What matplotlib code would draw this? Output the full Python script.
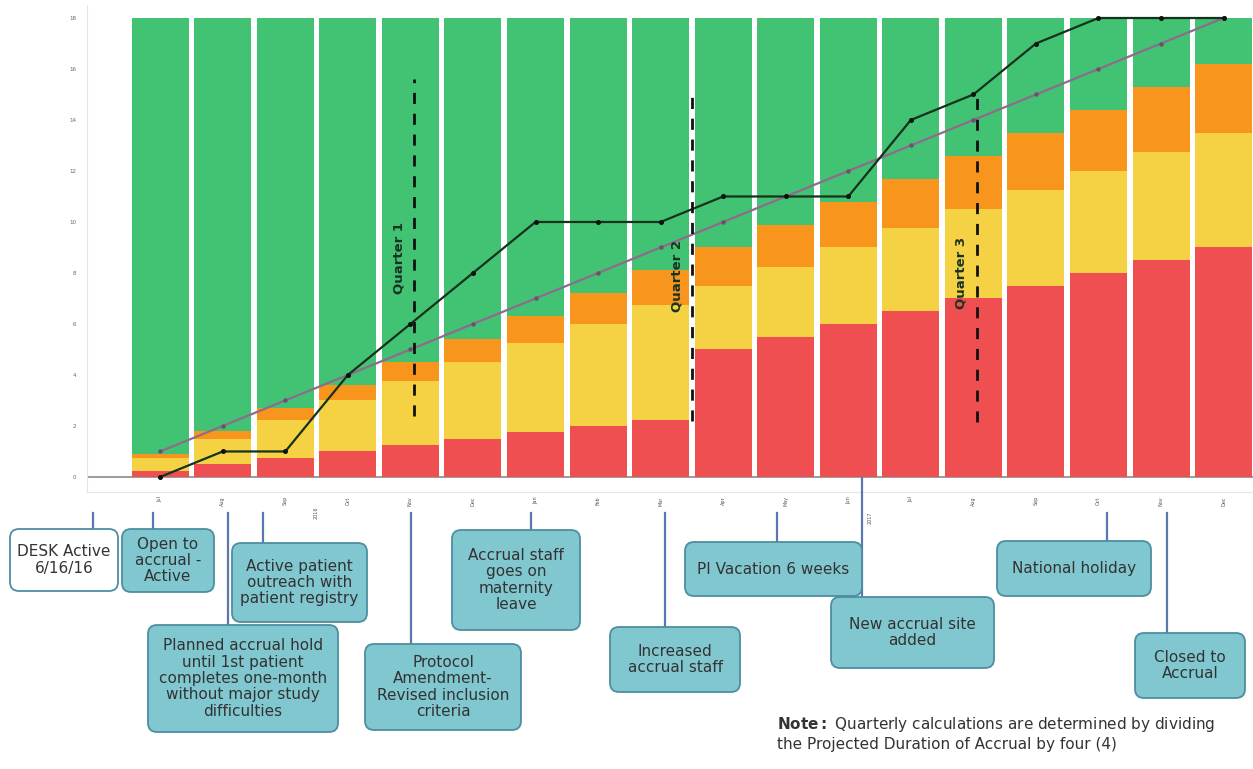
import matplotlib
matplotlib.use("Agg")
import matplotlib.pyplot as plt
from matplotlib.patches import FancyBboxPatch
import numpy as np

# ---------------- data ----------------
months = ["Jul", "Aug", "Sep", "Oct", "Nov", "Dec", "Jan", "Feb", "Mar",
          "Apr", "May", "Jun", "Jul", "Aug", "Sep", "Oct", "Nov", "Dec"]
years = ["2016", "2017"]
# cumulative thresholds (top of each coloured band)
red_top = [0.25, 0.5, 0.75, 1.0, 1.25, 1.5, 1.75, 2.0, 2.25,
           5.0, 5.5, 6.0, 6.5, 7.0, 7.5, 8.0, 8.5, 9.0]
yellow_top = [0.75, 1.5, 2.25, 3.0, 3.75, 4.5, 5.25, 6.0, 6.75,
              7.5, 8.25, 9.0, 9.75, 10.5, 11.25, 12.0, 12.75, 13.5]
orange_top = [0.9, 1.8, 2.7, 3.6, 4.5, 5.4, 6.3, 7.2, 8.1,
              9.0, 9.9, 10.8, 11.7, 12.6, 13.5, 14.4, 15.3, 16.2]
green_top = [18] * 18
projected = [1, 2, 3, 4, 5, 6, 7, 8, 9, 10, 11, 12, 13, 14, 15, 16, 17, 18]
actual = [0, 1, 1, 4, 6, 8, 10, 10, 10, 11, 11, 11, 14, 15, 17, 18, 18, 18]
quarter_labels = ["Quarter 1", "Quarter 2", "Quarter 3"]
quarter_pos = [4.05, 8.5, 13.05]
events = ["DESK Active\n6/16/16", "Open to\naccrual -\nActive",
          "Active patient\noutreach with\npatient registry",
          "Planned accrual hold\nuntil 1st patient\ncompletes one-month\nwithout major study\ndifficulties",
          "Protocol\nAmendment-\nRevised inclusion\ncriteria",
          "Accrual staff\ngoes on\nmaternity\nleave",
          "Increased\naccrual staff", "PI Vacation 6 weeks",
          "New accrual site\nadded", "National holiday", "Closed to\nAccrual"]

# ---------------- style ----------------
C_RED, C_YEL, C_ORA, C_GRN = "#ef4f51", "#f4d243", "#f7951c", "#42c273"
BOX_FILL, BOX_EDGE, CONN = "#80c7d0", "#4d8ea0", "#5a78ad"
FONT = ["DejaVu Sans"]

W, H = 1253, 769
fig = plt.figure(figsize=(W / 100, H / 100), dpi=100)
ax = fig.add_axes([87 / W, 1 - 492 / H, (W - 87) / W, (492 - 5) / H])

x = np.arange(len(months))
r = np.array(red_top); y_ = np.array(yellow_top); o = np.array(orange_top); g = np.array(green_top)
bw = 0.91
ax.axhline(0, color="#8a8a8a", lw=1.2, zorder=1)
ax.bar(x, r, bw, color=C_RED, zorder=2)
ax.bar(x, y_ - r, bw, bottom=r, color=C_YEL, zorder=2)
ax.bar(x, o - y_, bw, bottom=y_, color=C_ORA, zorder=2)
ax.bar(x, g - o, bw, bottom=o, color=C_GRN, zorder=2)

ax.plot(x, projected, color="#8d6c8c", lw=1.6, marker="o", ms=2.2,
        mfc="#6e4f6e", mec="#6e4f6e", zorder=4)
ax.plot(x, actual, color="#15321c", lw=1.6, marker="o", ms=2.6,
        mfc="#111111", mec="#111111", zorder=5)

q_top = [15.6, 15.25, 14.9]
q_bot = [2.4, 2.2, 2.15]
q_lab_y = [8.6, 7.9, 8.0]
for qp, qt, qb, ql, qy in zip(quarter_pos, q_top, q_bot, quarter_labels, q_lab_y):
    ax.plot([qp, qp], [qb, qt], color="#111111", lw=2.0, ls=(0, (4, 3.5)), zorder=6)
    ax.text(qp - 0.24, qy, ql, rotation=90, ha="center", va="center",
            fontsize=9.5, color="#1a3322", fontweight="bold", family=FONT, zorder=6)

ax.set_xlim(-1.17, 17.47)
ax.set_ylim(-0.59, 18.51)
ax.set_yticks(np.arange(0, 19, 2))
ax.set_yticklabels([str(v) for v in range(0, 19, 2)], fontsize=4, color="#666666")
ax.set_xticks(x)
ax.set_xticklabels(months, rotation=90, fontsize=3.5, color="#555555")
ax.tick_params(axis="both", length=0, pad=3)
ax.tick_params(axis="y", pad=8)
for s in ["top", "right"]:
    ax.spines[s].set_visible(False)
for s in ["left", "bottom"]:
    ax.spines[s].set_color("#e6e6e6")
    ax.spines[s].set_linewidth(0.8)

# ---------------- overlay (pixel coords) ----------------
ov = fig.add_axes([0, 0, 1, 1], zorder=10)
ov.set_xlim(0, W)
ov.set_ylim(H, 0)
ov.axis("off")
ov.patch.set_alpha(0)

for yr, (px, py) in zip(years, [(316, 513), (870, 518)]):
    ov.text(px, py, yr, rotation=90, fontsize=3.5, color="#555555",
            ha="center", va="center")

# box layout: (x0, y0, x1, y1, connector_x, connector_top)
boxes = [(10, 529, 118, 591, 93, 513), (122, 529, 214, 592, 153, 513),
         (232, 543, 367, 622, 263, 513), (148, 625, 338, 732, 228, 513),
         (365, 644, 521, 730, 411, 513), (452, 530, 580, 630, 531, 513),
         (610, 627, 740, 692, 665, 513), (685, 542, 862, 596, 777, 513),
         (831, 597, 994, 668, 862, 478), (997, 541, 1151, 596, 1107, 513),
         (1135, 633, 1245, 698, 1167, 513)]
for i, (txt, (x0, y0, x1, y1, cx, ct)) in enumerate(zip(events, boxes)):
    ov.plot([cx, cx], [ct, y0], color=CONN, lw=1.6, zorder=1)
    fill = "white" if i == 0 else BOX_FILL
    p = FancyBboxPatch((x0, y0), x1 - x0, y1 - y0,
                       boxstyle="round,pad=0,rounding_size=9",
                       fc=fill, ec=BOX_EDGE, lw=1.3, zorder=2)
    ov.add_patch(p)
    ov.text((x0 + x1) / 2, (y0 + y1) / 2, txt, ha="center", va="center",
            fontsize=11, color="#333333", family=FONT, linespacing=1.12, zorder=3)

ov.text(777, 724, r"$\bf{Note:}$ Quarterly calculations are determined by dividing",
        fontsize=11, color="#333333", family=FONT, va="center", ha="left")
ov.text(777, 745, "the Projected Duration of Accrual by four (4)",
        fontsize=11, color="#333333", family=FONT, va="center", ha="left")

fig.savefig("out.png", dpi=100)
